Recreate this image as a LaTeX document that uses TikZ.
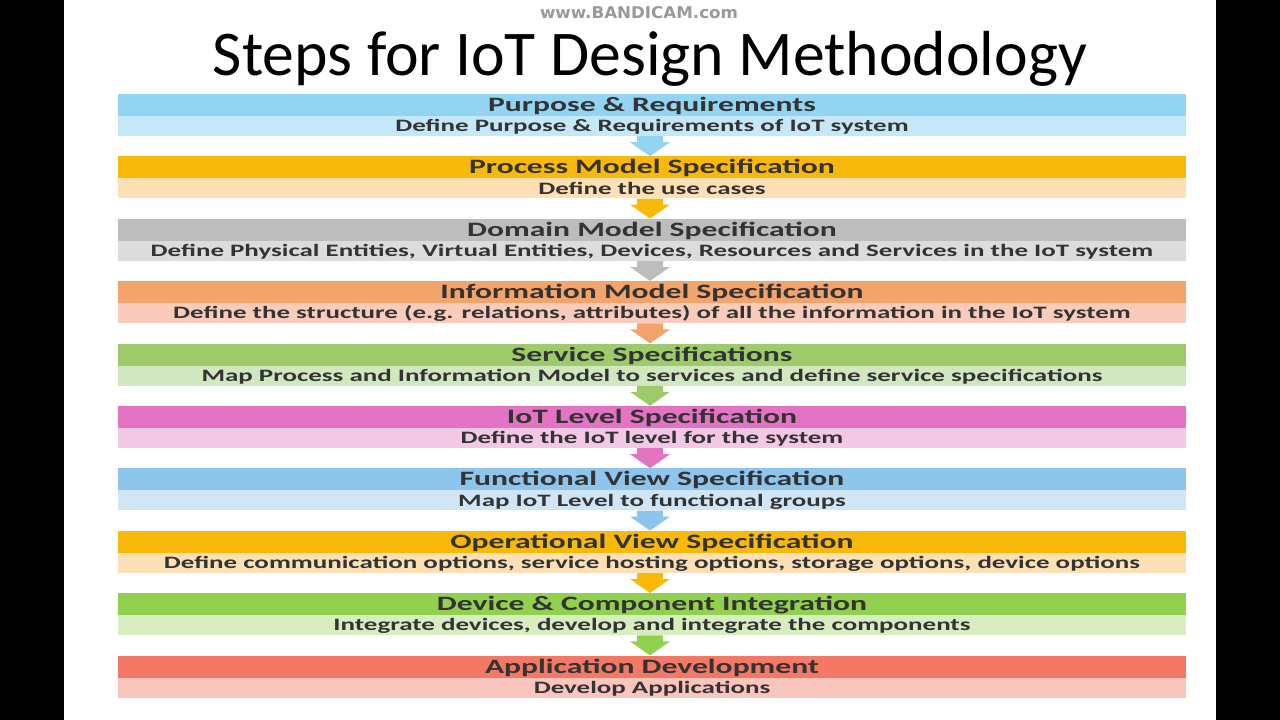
\documentclass[tikz,border=0pt]{standalone}
\usepackage{fontspec}
\setmainfont{Carlito}
\newfontfamily\wmfont{DejaVu Sans}
\usetikzlibrary{calc}
\definecolor{txt}{HTML}{333333}
\definecolor{aA}{HTML}{92D5F3}\definecolor{aB}{HTML}{C5E8F9}
\definecolor{bA}{HTML}{F9B90A}\definecolor{bB}{HTML}{FDE0B6}
\definecolor{cA}{HTML}{BDBDBD}\definecolor{cB}{HTML}{DCDCDC}
\definecolor{dA}{HTML}{F3A36C}\definecolor{dB}{HTML}{F9CBBB}
\definecolor{eA}{HTML}{9DCB6B}\definecolor{eB}{HTML}{D1E7BF}
\definecolor{fA}{HTML}{E374C4}\definecolor{fB}{HTML}{F3C8E5}
\definecolor{gA}{HTML}{8EC5EC}\definecolor{gB}{HTML}{D0E6F7}
\definecolor{hA}{HTML}{F9B90A}\definecolor{hB}{HTML}{FDE0B6}
\definecolor{iA}{HTML}{92D050}\definecolor{iB}{HTML}{D7EDC2}
\definecolor{jA}{HTML}{F37966}\definecolor{jB}{HTML}{FAC5BC}
\newcommand\hsc[1]{\scalebox{1.55}[1]{#1}}
\newcommand\iotrow[6]{%
  \node[headbar, fill=#3] (h#1) at (652,#2+11) {\hsc{#5}};
  \node[subbar, fill=#4] (s#1) at (652,#2+32) {\hsc{#6}};
}
\newcommand\iotarrow[3]{%
  \fill[#3] ($(s#1.south)+(-15,0)$) -- ($(s#1.south)+(11,0)$) -- ($(s#1.south)+(11,6)$)
    -- ($(s#1.south)+(18,6)$) -- ($(h#2.north)+(-2,0)$) -- ($(s#1.south)+(-22,6)$)
    -- ($(s#1.south)+(-15,6)$) -- cycle;
}
\begin{document}
\begin{tikzpicture}[x=1pt,y=-1pt,
  headbar/.style={rectangle, inner sep=0pt, minimum width=1068pt, minimum height=22pt,
    text height=13.1pt, text depth=0pt, text=txt, font=\bfseries\fontsize{20.4}{24}\selectfont},
  subbar/.style={rectangle, inner sep=0pt, minimum width=1068pt, minimum height=20pt,
    text height=11.2pt, text depth=0pt, text=txt, font=\bfseries\fontsize{17.4}{20}\selectfont}]
\useasboundingbox (0,0) rectangle (1280,720);
\fill[black] (0,0) rectangle (1280,720);
\fill[white] (64,0) rectangle (1216,720);
\node[text=gray!80, inner sep=0pt] (wm) at (639,13) {\resizebox{198pt}{12pt}{\wmfont\bfseries www.BANDICAM.com}};
\node[anchor=base, inner sep=0pt, text=black, font=\fontsize{63.7}{70}\selectfont] (title) at (650,75) {Steps for IoT Design Methodology};
\iotrow{1}{94}{aA}{aB}{Purpose \& Requirements}{Define Purpose \& Requirements of IoT system}
\iotrow{2}{156.4}{bA}{bB}{Process Model Specification}{Define the use cases}
\iotrow{3}{218.8}{cA}{cB}{Domain Model Specification}{Define Physical Entities, Virtual Entities, Devices, Resources and Services in the IoT system}
\iotrow{4}{281.2}{dA}{dB}{Information Model Specification}{Define the structure (e.g. relations, attributes) of all the information in the IoT system}
\iotrow{5}{343.6}{eA}{eB}{Service Specifications}{Map Process and Information Model to services and define service specifications}
\iotrow{6}{406}{fA}{fB}{IoT Level Specification}{Define the IoT level for the system}
\iotrow{7}{468.4}{gA}{gB}{Functional View Specification}{Map IoT Level to functional groups}
\iotrow{8}{530.8}{hA}{hB}{Operational View Specification}{Define communication options, service hosting options, storage options, device options}
\iotrow{9}{593.2}{iA}{iB}{Device \& Component Integration}{Integrate devices, develop and integrate the components}
\iotrow{10}{655.6}{jA}{jB}{Application Development}{Develop Applications}
\iotarrow{1}{2}{aA}
\iotarrow{2}{3}{bA}
\iotarrow{3}{4}{cA}
\iotarrow{4}{5}{dA}
\iotarrow{5}{6}{eA}
\iotarrow{6}{7}{fA}
\iotarrow{7}{8}{gA}
\iotarrow{8}{9}{hA}
\iotarrow{9}{10}{iA}
\end{tikzpicture}
\end{document}
